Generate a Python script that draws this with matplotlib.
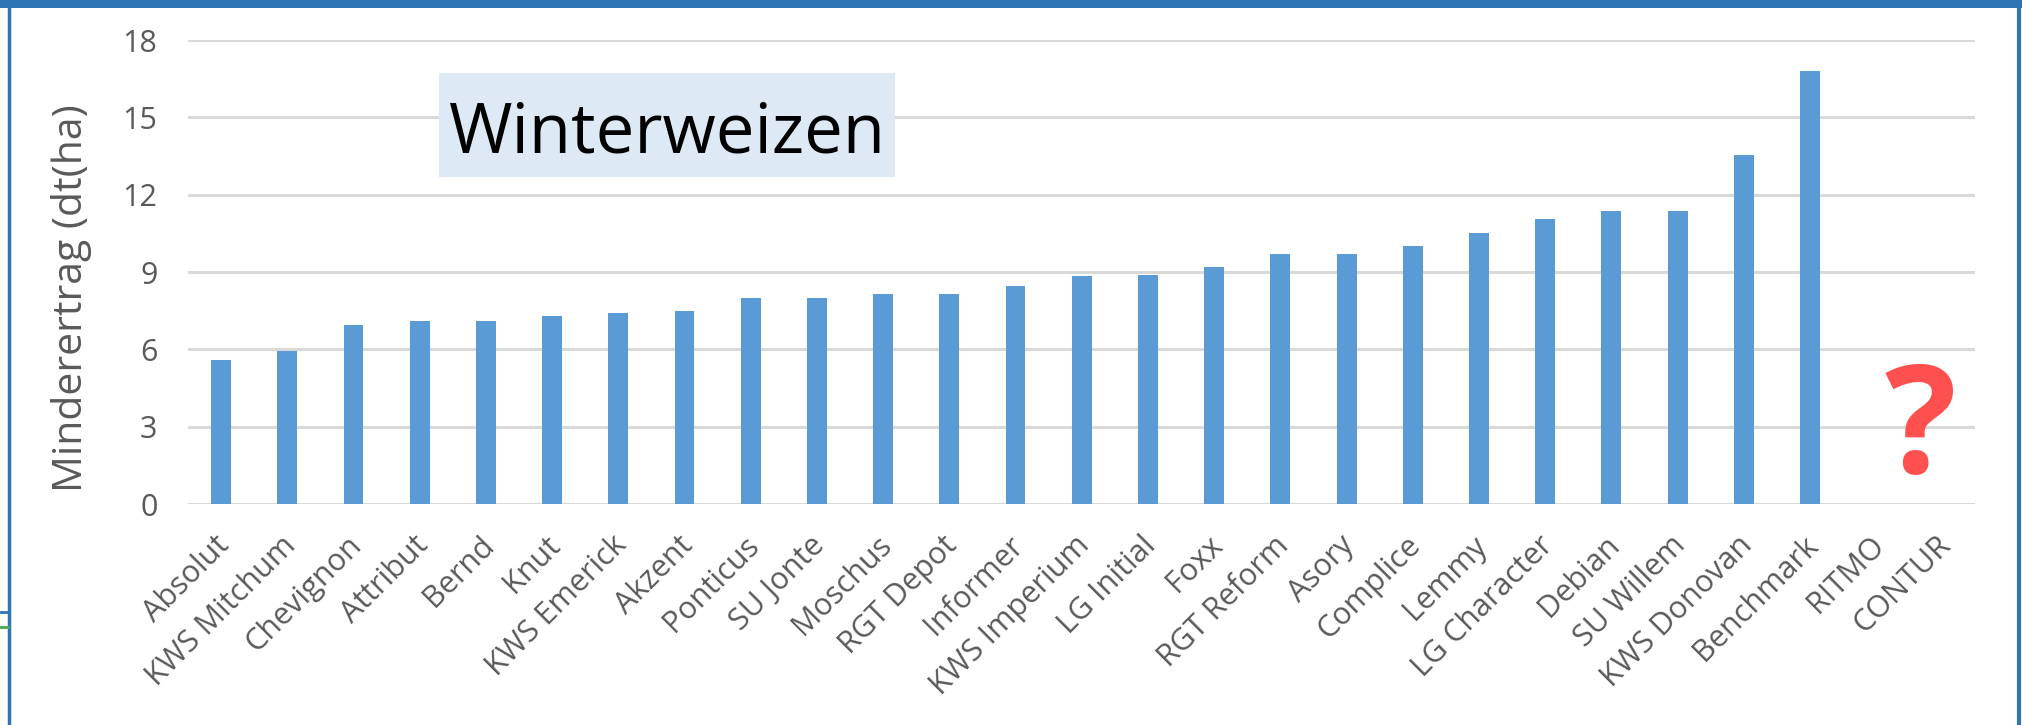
import numpy as np
import matplotlib.pyplot as plt
from matplotlib.patches import Rectangle
from matplotlib.lines import Line2D
import matplotlib.transforms as mtransforms

# Daten
sorten = ['Absolut', 'KWS Mitchum', 'Chevignon', 'Attribut', 'Bernd', 'Knut',
          'KWS Emerick', 'Akzent', 'Ponticus', 'SU Jonte', 'Moschus', 'RGT Depot',
          'Informer', 'KWS Imperium', 'LG Initial', 'Foxx', 'RGT Reform', 'Asory',
          'Complice', 'Lemmy', 'LG Character', 'Debian', 'SU Willem', 'KWS Donovan',
          'Benchmark', 'RITMO', 'CONTUR']
minderertrag = [5.6, 5.95, 6.95, 7.1, 7.1, 7.3, 7.4, 7.5, 8.0, 8.0, 8.15, 8.15,
                8.45, 8.85, 8.9, 9.2, 9.7, 9.7, 10.0, 10.5, 11.05, 11.35, 11.35,
                13.55, 16.8, np.nan, np.nan]
y_ticks = [0, 3, 6, 9, 12, 15, 18]

plt.rcParams['font.family'] = ['Open Sans', 'DejaVu Sans']

fig = plt.figure(figsize=(20.22, 7.25), dpi=100)
ax = fig.add_axes([0.093, 0.3048, 0.884, 0.64])

x = np.arange(len(sorten))
ax.bar(x, minderertrag, width=0.30, color='#5B9BD5', zorder=3)

ax.set_xlim(-0.5, len(sorten) - 0.5)
ax.set_ylim(0, 18)
ax.set_yticks(y_ticks)
ax.yaxis.grid(True, color='#D9D9D9', linewidth=2.2, zorder=0)
ax.set_axisbelow(True)
for s in ax.spines.values():
    s.set_visible(False)

ax.set_xticks(x)
ax.set_xticklabels(sorten, rotation=45, ha='right', va='top', rotation_mode='anchor')
ax.tick_params(axis='x', length=0, labelsize=22, labelcolor='#595959', pad=19)
ax.tick_params(axis='y', length=0, labelsize=22, labelcolor='#595959', pad=22)
# Beschriftungen leicht verschieben
verschiebung = mtransforms.ScaledTranslation(-7 / 100, 0, fig.dpi_scale_trans)
for lbl in ax.get_xticklabels():
    lbl.set_transform(lbl.get_transform() + verschiebung)

ax.set_ylabel('Minderertrag (dt(ha)', fontsize=29.5, color='#595959', va='center')
ax.yaxis.set_label_coords(-0.0654, 0.444)

# Titelbox
ax.add_patch(Rectangle((3.29, 12.68), 10.18 - 3.29, 16.72 - 12.68,
                       facecolor='#DDE9F5', edgecolor='none', zorder=4))
ax.text(6.74, 13.65, 'Winterweizen', fontsize=49.5, color='black',
        ha='center', va='baseline', zorder=5)

# Fragezeichen
ax.text(25.66, 2.75, '?', fontsize=108, fontweight='bold', color='#FF5050',
        ha='center', va='center', zorder=5)

# Rahmen
blau = '#2E75B6'
fig.add_artist(Rectangle((0, 1 - 8 / 725), 1, 8 / 725, transform=fig.transFigure,
                         facecolor=blau, edgecolor='none'))
fig.add_artist(Line2D([9 / 2022, 9 / 2022], [0, 1], transform=fig.transFigure,
                      color=blau, linewidth=2.5))
fig.add_artist(Line2D([2019 / 2022, 2019 / 2022], [0, 1], transform=fig.transFigure,
                      color=blau, linewidth=3))
fig.add_artist(Line2D([0, 8 / 2022], [1 - 612 / 725, 1 - 612 / 725], transform=fig.transFigure,
                      color=blau, linewidth=2))
fig.add_artist(Line2D([0, 8 / 2022], [1 - 627 / 725, 1 - 627 / 725], transform=fig.transFigure,
                      color='#4CA64C', linewidth=2))

fig.savefig('out.png', dpi=100)
